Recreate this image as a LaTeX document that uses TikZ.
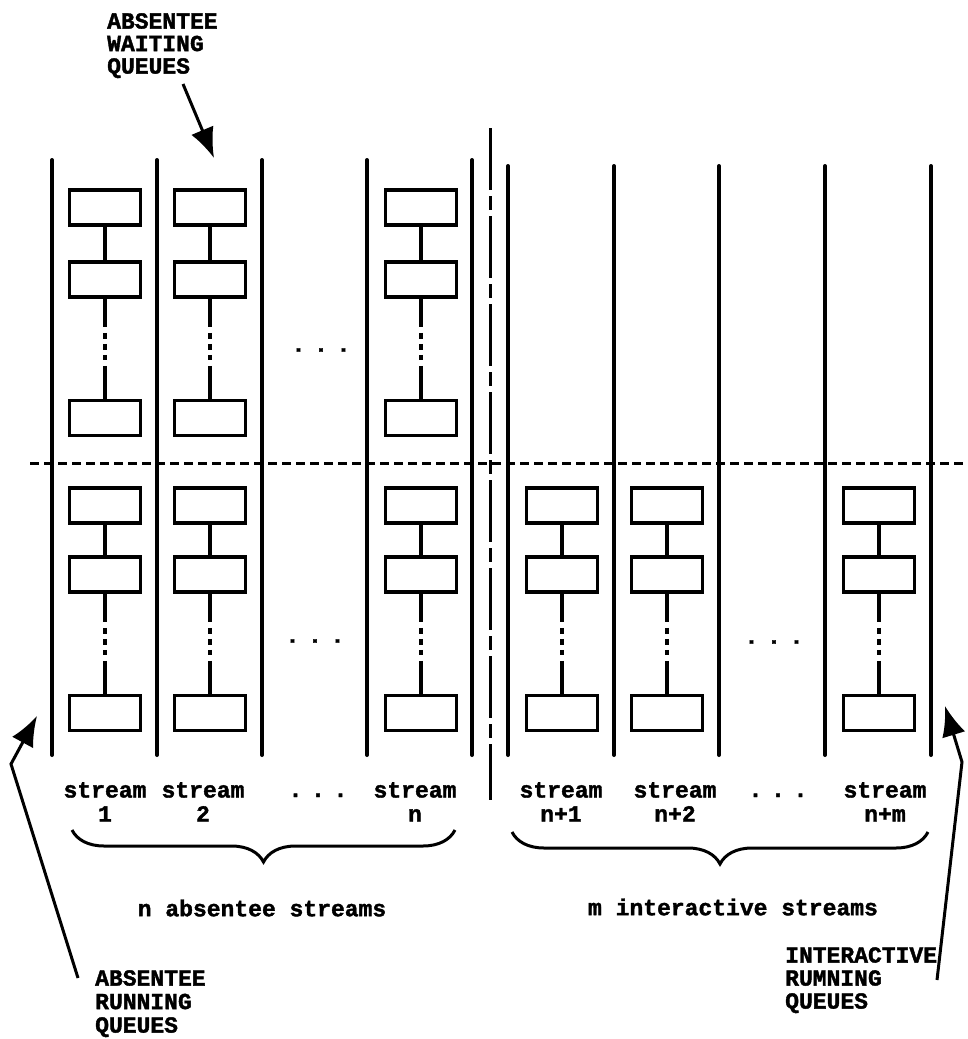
\documentclass[tikz,border=0pt]{standalone}
\usepackage{fontspec}
\newfontfamily\tw{Liberation Mono}[BoldFeatures={FakeBold=1.6}]
\usetikzlibrary{arrows.meta,decorations.pathreplacing}
\begin{document}
\begin{tikzpicture}[x=1pt,y=-1pt,
  qbox/.style={draw, line width=3.6pt, minimum width=71pt, minimum height=35pt, inner sep=0pt},
  wall/.style={line width=4pt, line cap=round},
  link/.style={line width=3.2pt},
  gaplink/.style={line width=3.4pt, dash pattern=on 28pt off 6pt on 6pt off 5pt on 6pt off 5pt on 5pt off 6pt on 60pt},
  divider/.style={line width=3pt, dash pattern=on 62pt off 6pt on 14pt off 6pt},
  splitline/.style={line width=3pt, dash pattern=on 9pt off 5pt},
  txt/.style={font=\tw\bfseries\fontsize{23}{22.5}\selectfont, inner sep=0pt},
  lbl/.style={txt, align=left, anchor=north west},
  slbl/.style={font=\tw\bfseries\fontsize{23}{24}\selectfont, inner sep=0pt, align=center, anchor=north},
  ell/.style={txt},
  pointer/.style={line width=3pt, -{Latex[length=30pt,width=24pt]}},
  brc/.style={line width=3pt, decorate, decoration={brace, mirror, amplitude=32pt}}
]
\useasboundingbox (0,0) rectangle (967,1039);

% pointers (drawn first)
\coordinate (wq-tail) at (183,84);
\coordinate (wq-tip) at (214,158);
\draw[pointer] (wq-tail) -- (wq-tip);
\coordinate (arq-tail) at (78,978);
\coordinate (arq-bend) at (11,764);
\coordinate (arq-tip) at (37,716);
\draw[pointer] (arq-tail) -- (arq-bend) -- (arq-tip);
\coordinate (irq-tail) at (937,980);
\coordinate (irq-bend) at (962,762);
\coordinate (irq-tip) at (945,706);
\draw[pointer] (irq-tail) -- (irq-bend) -- (irq-tip);

% walls of absentee streams
\foreach \x in {52,157,262,367,472}{\draw[wall] (\x,160) -- (\x,755);}
% walls of interactive streams
\foreach \x in {508,614,719,825,931}{\draw[wall] (\x,166) -- (\x,755);}
% dividing line between the two kinds
\draw[divider] (490,128) -- (490,800);
% waiting / running split
\draw[splitline] (30,463) -- (967,463);

% waiting queues (absentee only)
\foreach \c/\x in {a1/105,a2/210,an/421}{
  \node[qbox] (\c-t1) at (\x,207.5) {};
  \node[qbox] (\c-t2) at (\x,279.5) {};
  \node[qbox] (\c-t3) at (\x,418) {};
  \draw[link] (\c-t1) -- (\c-t2);
  \draw[gaplink] (\c-t2) -- (\c-t3);
}
% running queues
\foreach \c/\x in {a1/105,a2/210,an/421,b1/562,b2/667,bm/879}{
  \node[qbox] (\c-r1) at (\x,505.5) {};
  \node[qbox] (\c-r2) at (\x,574.5) {};
  \node[qbox] (\c-r3) at (\x,713) {};
  \draw[link] (\c-r1) -- (\c-r2);
  \draw[gaplink] (\c-r2) -- (\c-r3);
}

% braces
\coordinate (bl1) at (72,830);
\coordinate (bl2) at (455,830);
\coordinate (br1) at (512,832);
\coordinate (br2) at (928,832);
\draw[brc] (bl1) -- (bl2);
\draw[brc] (br1) -- (br2);

% ellipses between columns
\node[ell] (e1) at (321,350) {.\hspace{8.7pt}.\hspace{8.7pt}.};
\node[ell] (e2) at (315,641) {.\hspace{8.7pt}.\hspace{8.7pt}.};
\node[ell] (e3) at (774,642) {.\hspace{8.7pt}.\hspace{8.7pt}.};

% stream labels
\node[slbl] (s1) at (105,782) {stream\\1};
\node[slbl] (s2) at (203,782) {stream\\2};
\node[ell, anchor=base] (sd1) at (318,797) {.\hspace{8.7pt}.\hspace{8.7pt}.};
\node[slbl] (sn) at (415,782) {stream\\n};
\node[slbl] (sn1) at (561,782) {stream\\n+1};
\node[slbl] (sn2) at (675,782) {stream\\n+2};
\node[ell, anchor=base] (sd2) at (778,797) {.\hspace{8.7pt}.\hspace{8.7pt}.};
\node[slbl] (snm) at (885,782) {stream\\n+m};

\node[txt] (nabs) at (262,908) {n absentee streams};
\node[txt] (mint) at (733,907) {m interactive streams};

% labels
\node[lbl] (wq) at (107,13) {ABSENTEE\\WAITING\\QUEUES};
\node[lbl, font=\tw\bfseries\fontsize{23}{23.5}\selectfont] (arq) at (95,970) {ABSENTEE\\RUNNING\\QUEUES};
\node[lbl, font=\tw\bfseries\fontsize{23}{23}\selectfont] (irq) at (785,947) {INTERACTIVE\\RUMNING\\QUEUES};
\end{tikzpicture}
\end{document}
